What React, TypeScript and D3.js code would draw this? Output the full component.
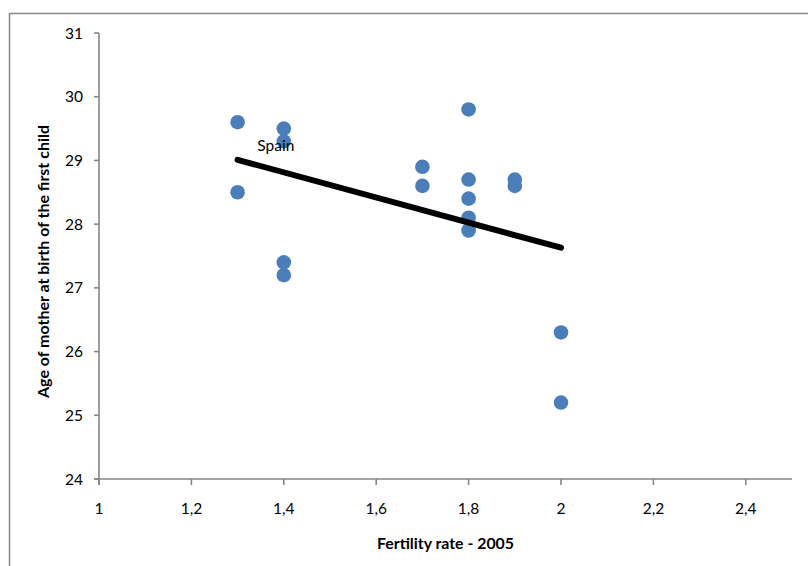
import React from "react";
import * as d3 from "d3";

const fertility = [1.3, 1.3, 1.4, 1.4, 1.4, 1.4, 1.7, 1.7, 1.8, 1.8, 1.8, 1.8, 1.8, 1.9, 1.9, 2.0, 2.0];
const ageFirstChild = [29.6, 28.5, 29.5, 29.3, 27.4, 27.2, 28.9, 28.6, 29.8, 28.7, 28.4, 28.1, 27.9, 28.7, 28.6, 26.3, 25.2];
const trendX = [1.3, 2.0];
const trendY = [29.01, 27.63];
const labelIndex = 3;
const labelText = "Spain";
const xTicks = [1, 1.2, 1.4, 1.6, 1.8, 2, 2.2, 2.4];
const xTickLabels = ["1", "1,2", "1,4", "1,6", "1,8", "2", "2,2", "2,4"];
const yTicks = [24, 25, 26, 27, 28, 29, 30, 31];
const yTickLabels = ["24", "25", "26", "27", "28", "29", "30", "31"];
const xTitle = "Fertility rate - 2005";
const yTitle = "Age of mother at birth of the first child";

const W = 808;
const H = 566;
const FONT = "Lato, 'Open Sans', sans-serif";
const AXIS = "#868686";

export default function App() {
  const x = d3.scaleLinear().domain([1, 2.5]).range([99, 792]);
  const y = d3.scaleLinear().domain([24, 31]).range([479, 33]);
  const line = d3
    .line<number>()
    .x((d) => x(d))
    .y((_, i) => y(trendY[i]));

  const lx = x(fertility[labelIndex]);
  const ly = y(ageFirstChild[labelIndex]);

  return (
    <div style={{ position: "absolute", left: 0, top: 0 }}>
      <svg width={W} height={H} style={{ display: "block", background: "#fff" }}>
        <rect x={9.5} y={13.5} width={W + 20} height={H + 20} fill="#fff" stroke={AXIS} strokeWidth={1.5} />
        {/* y axis */}
        <line x1={x(1)} x2={x(1)} y1={y(31)} y2={y(24) + 6} stroke={AXIS} strokeWidth={1.6} />
        {yTicks.map((t, i) => (
          <g key={"y" + t}>
            <line x1={x(1) - 5} x2={x(1)} y1={y(t)} y2={y(t)} stroke={AXIS} strokeWidth={1.6} />
            <text x={83} y={y(t) + 5.5} textAnchor="end" fontFamily={FONT} fontSize={15.5} fill="#000">
              {yTickLabels[i]}
            </text>
          </g>
        ))}
        {/* x axis */}
        <line x1={x(1) - 5} x2={x(2.5)} y1={y(24)} y2={y(24)} stroke={AXIS} strokeWidth={1.6} />
        {xTicks.map((t, i) => (
          <g key={"x" + t}>
            <line x1={x(t)} x2={x(t)} y1={y(24)} y2={y(24) + 6} stroke={AXIS} strokeWidth={1.6} />
            <text x={x(t)} y={513.5} textAnchor="middle" fontFamily={FONT} fontSize={15.5} fill="#000">
              {xTickLabels[i]}
            </text>
          </g>
        ))}
        {/* points */}
        {fertility.map((f, i) => (
          <circle key={"p" + i} cx={x(f)} cy={y(ageFirstChild[i])} r={7.3} fill="#4a7ebb" />
        ))}
        {/* trend line */}
        <path d={line(trendX) || ""} fill="none" stroke="#000" strokeWidth={6} strokeLinecap="round" />
        {/* label */}
        <text x={lx - 8} y={ly + 9.5} textAnchor="middle" fontFamily={FONT} fontSize={15.5} fill="#000">
          {labelText}
        </text>
        {/* titles */}
        <text
          x={445.5}
          y={548.5}
          textAnchor="middle"
          fontFamily={FONT}
          fontWeight="bold"
          fontSize={14.5}
          textLength={137}
          lengthAdjust="spacingAndGlyphs"
          fill="#000"
        >
          {xTitle}
        </text>
        <text
          transform="translate(49,261.5) rotate(-90)"
          textAnchor="middle"
          fontFamily={FONT}
          fontWeight="bold"
          fontSize={14.5}
          textLength={273}
          lengthAdjust="spacingAndGlyphs"
          fill="#000"
        >
          {yTitle}
        </text>
      </svg>
    </div>
  );
}
